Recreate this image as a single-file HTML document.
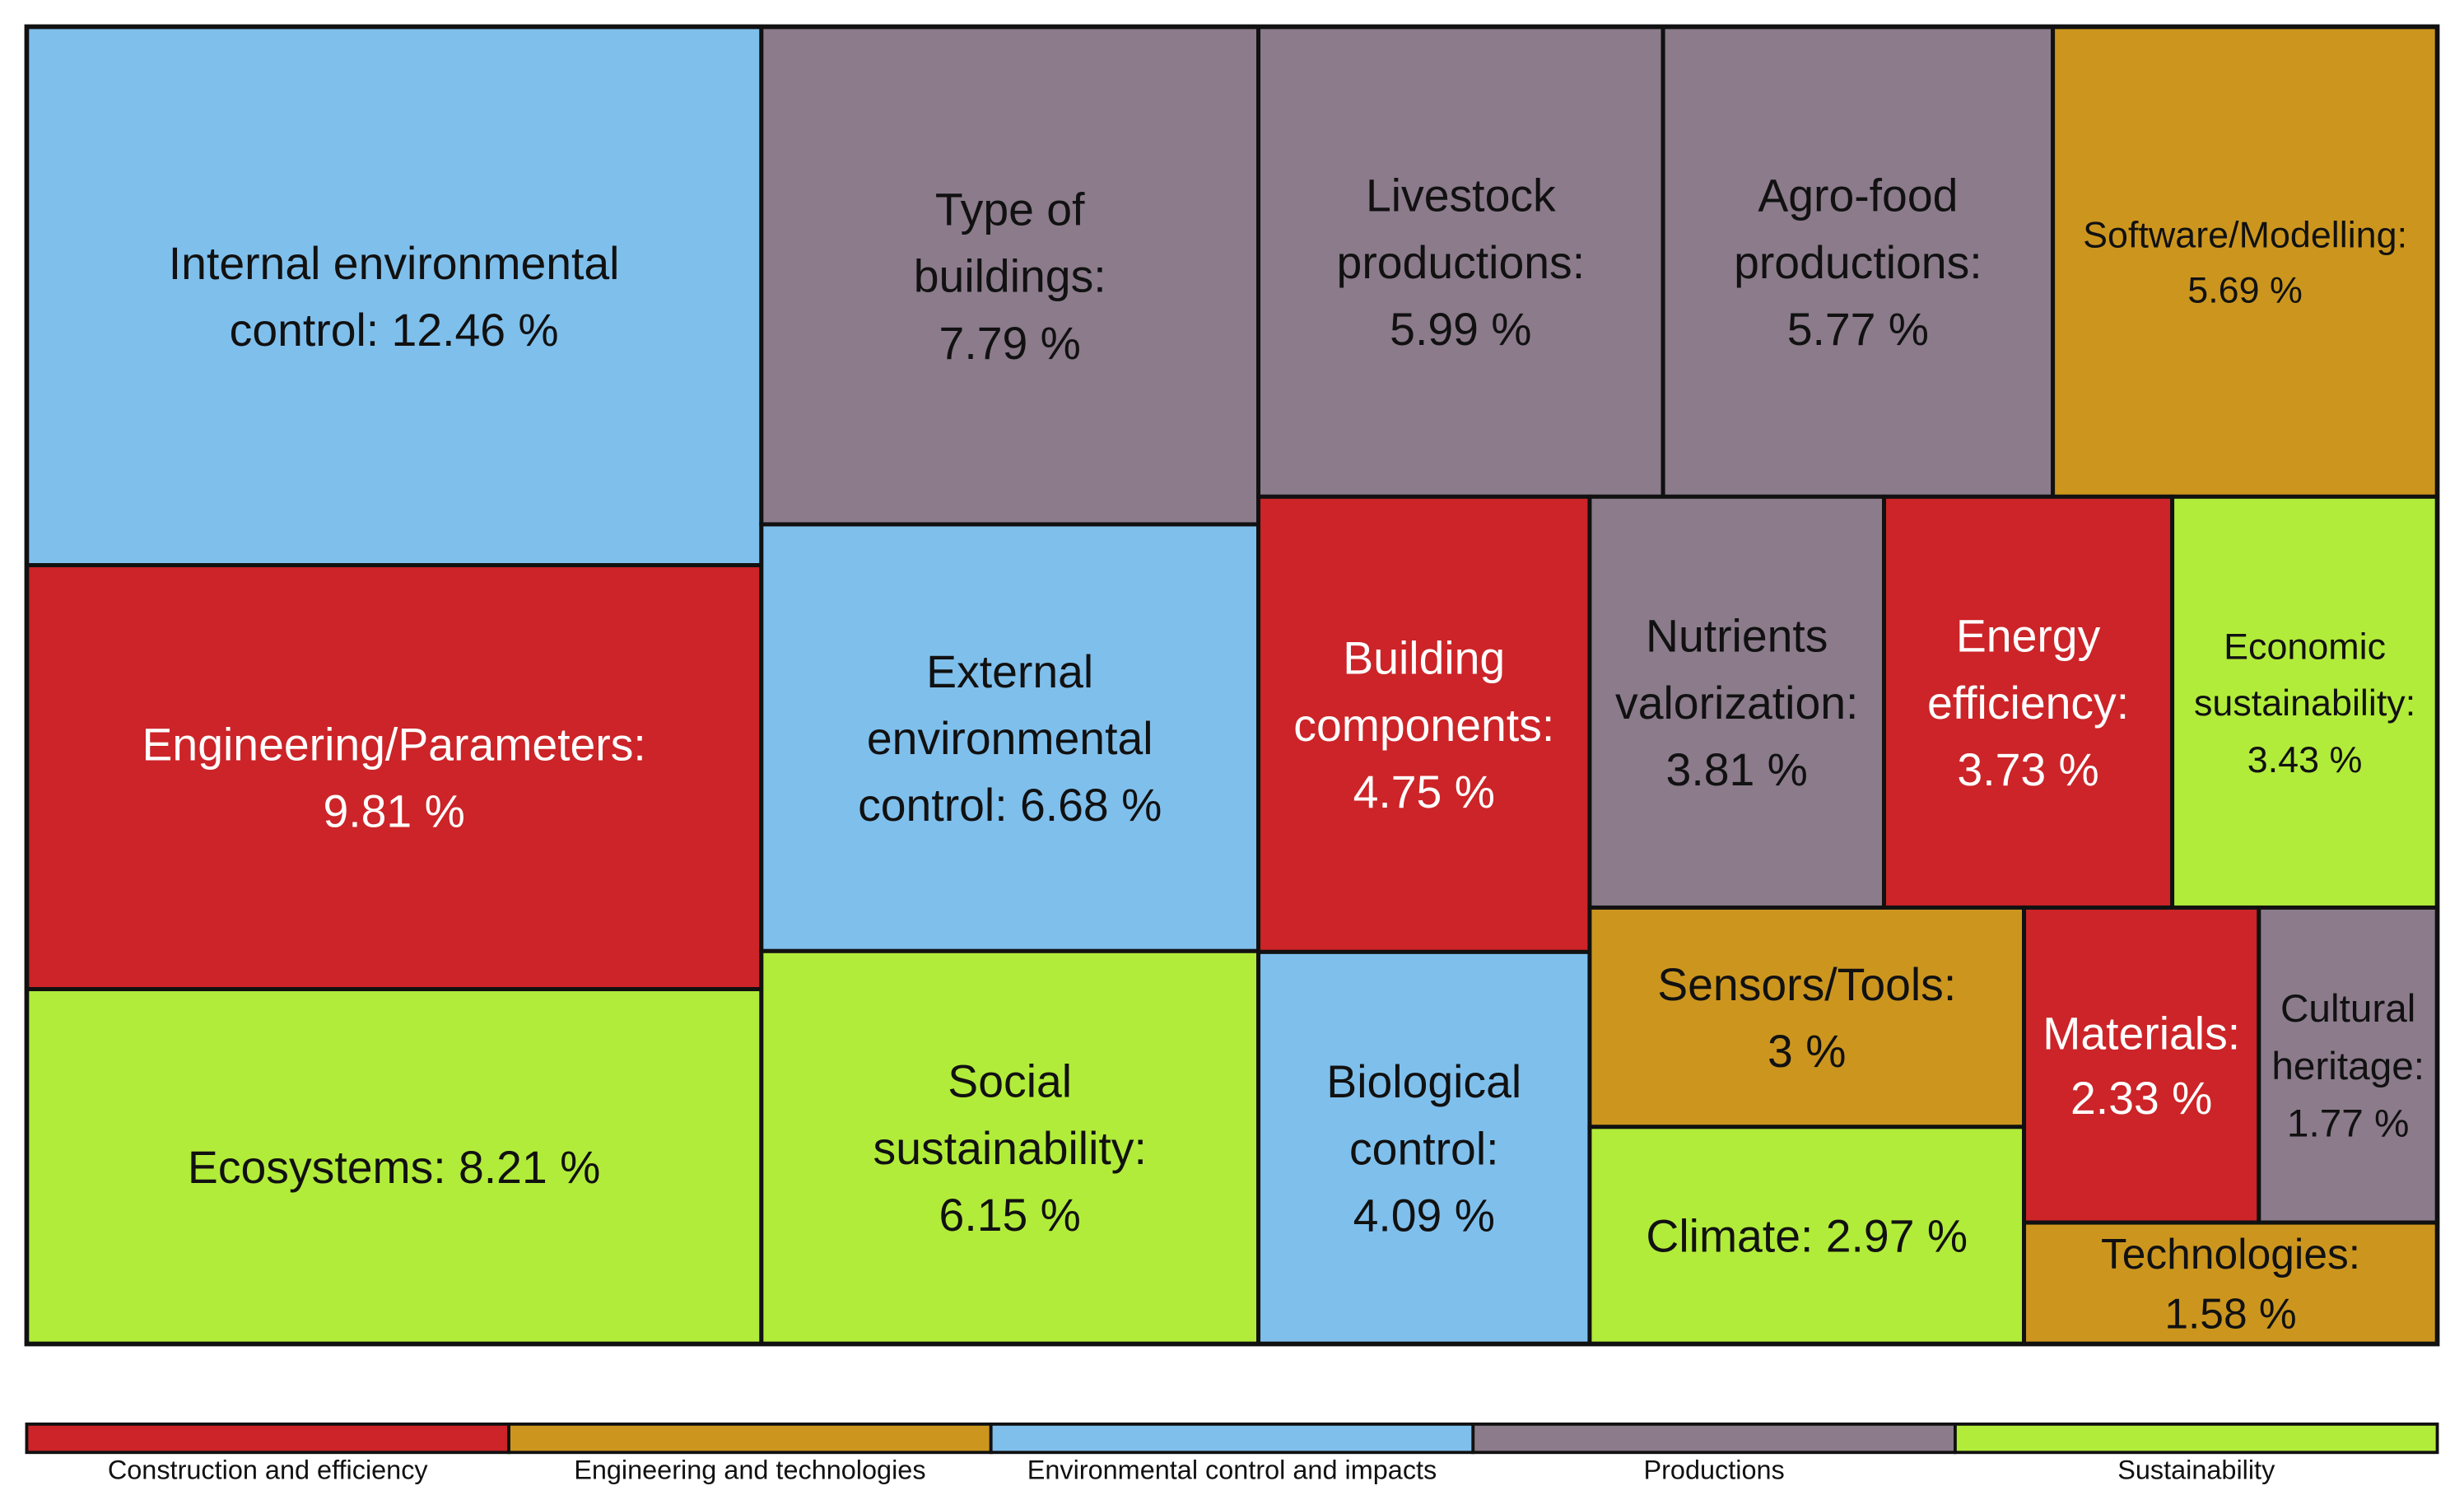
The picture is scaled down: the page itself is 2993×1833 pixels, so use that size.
<!DOCTYPE html>
<html><head><meta charset="utf-8"><style>
html,body{margin:0;padding:0;background:#fff;}
svg{display:block;font-family:"Liberation Sans",Arial,sans-serif;}
</style></head>
<body>
<svg id="chart" width="2993" height="1833" viewBox="0 0 1568 960" preserveAspectRatio="none" xmlns="http://www.w3.org/2000/svg">
<g id="tiles"></g>
<g id="legend"></g>
</svg>
<script>
const categories = ["Internal environmental control","Engineering/Parameters","Ecosystems","Type of buildings","External environmental control","Social sustainability","Livestock productions","Agro-food productions","Software/Modelling","Building components","Biological control","Nutrients valorization","Energy efficiency","Economic sustainability","Sensors/Tools","Climate","Materials","Cultural heritage","Technologies"];
const values = [12.46,9.81,8.21,7.79,6.68,6.15,5.99,5.77,5.69,4.75,4.09,3.81,3.73,3.43,3,2.97,2.33,1.77,1.58];
const valueLabels = ["12.46","9.81","8.21","7.79","6.68","6.15","5.99","5.77","5.69","4.75","4.09","3.81","3.73","3.43","3","2.97","2.33","1.77","1.58"];
const groups = [2,0,4,3,2,4,3,3,1,0,2,3,0,4,1,4,0,3,1];
const labelLines = [
 ["Internal environmental","control: {v} %"],["Engineering/Parameters:","{v} %"],["Ecosystems: {v} %"],
 ["Type of","buildings:","{v} %"],["External","environmental","control: {v} %"],["Social","sustainability:","{v} %"],
 ["Livestock","productions:","{v} %"],["Agro-food","productions:","{v} %"],["Software/Modelling:","{v} %"],
 ["Building","components:","{v} %"],["Biological","control:","{v} %"],["Nutrients","valorization:","{v} %"],
 ["Energy","efficiency:","{v} %"],["Economic","sustainability:","{v} %"],["Sensors/Tools:","{v} %"],
 ["Climate: {v} %"],["Materials:","{v} %"],["Cultural","heritage:","{v} %"],["Technologies:","{v} %"]];
const stripSizes = [3,3,3,2,3,2,2,1];
const groupNames = ["Construction and efficiency","Engineering and technologies","Environmental control and impacts","Productions","Sustainability"];

const colors = ["#cc2428","#cc961e","#7fbfec","#8b7b8b","#b2ec3a"];
const fontSizes = {8:23.5,13:23.5,17:25,18:27,16:29};
const lineHeights = {8:35,13:36,17:36.5,18:38,16:41};
const NS="http://www.w3.org/2000/svg";
const tiles=document.getElementById('tiles');
let rect={x:17,y:17,w:1534,h:838};
let idx=0;
const total=values.reduce((a,b)=>a+b,0);
let remaining=total;
function slug(s){return s.toLowerCase().replace(/[^a-z0-9]+/g,'-').replace(/^-|-$/g,'');}
const boxes=[];
stripSizes.forEach(n=>{
  const items=[];for(let k=0;k<n;k++)items.push(idx+k);
  const sum=items.reduce((a,i)=>a+values[i],0);
  const frac=sum/remaining;
  if(rect.w>=rect.h+2){
    const sw=rect.w*frac;let y=rect.y;
    items.forEach(i=>{const h=rect.h*values[i]/sum;boxes[i]={x:rect.x,y:y,w:sw,h:h};y+=h;});
    rect={x:rect.x+sw,y:rect.y,w:rect.w-sw,h:rect.h};
  } else {
    const sh=rect.h*frac;let x=rect.x;
    items.forEach(i=>{const w=rect.w*values[i]/sum;boxes[i]={x:x,y:rect.y,w:w,h:sh};x+=w;});
    rect={x:rect.x,y:rect.y+sh,w:rect.w,h:rect.h-sh};
  }
  remaining-=sum;idx+=n;
});
boxes.forEach((b,i)=>{
  const g=document.createElementNS(NS,'g');
  
  
  const r=document.createElementNS(NS,'rect');
  r.setAttribute('x',b.x);r.setAttribute('y',b.y);r.setAttribute('width',b.w);r.setAttribute('height',b.h);
  r.setAttribute('fill',colors[groups[i]]);r.setAttribute('stroke','#111');r.setAttribute('stroke-width','2.6');
  
  
  g.appendChild(r);
  const lines=labelLines[i].map(s=>s.replace('{v}',valueLabels[i]));
  const fs=fontSizes[i]||29, lh=lineHeights[i]||42.5;
  const cx=b.x+b.w/2, cy=b.y+b.h/2;
  const t=document.createElementNS(NS,'text');
  
  
  t.setAttribute('text-anchor','middle');t.setAttribute('font-size',fs);
  t.setAttribute('fill',groups[i]===0?'#ffffff':'#111111');
  lines.forEach((s,k)=>{
    const ts=document.createElementNS(NS,'tspan');
    ts.setAttribute('x',cx);
    ts.setAttribute('y',cy+(k-(lines.length-1)/2)*lh+fs*0.36);
    ts.textContent=s;t.appendChild(ts);
  });
  g.appendChild(t);tiles.appendChild(g);
});
const outer=document.createElementNS(NS,'rect');
outer.setAttribute('x',17);outer.setAttribute('y',17);outer.setAttribute('width',1534);outer.setAttribute('height',838);
outer.setAttribute('fill','none');outer.setAttribute('stroke','#111');outer.setAttribute('stroke-width','3');


tiles.appendChild(outer);
const legend=document.getElementById('legend');
const lw=1534/groupNames.length;
groupNames.forEach((nm,i)=>{
  const r=document.createElementNS(NS,'rect');
  r.setAttribute('x',17+i*lw);r.setAttribute('y',906);r.setAttribute('width',lw);r.setAttribute('height',18);
  r.setAttribute('fill',colors[i]);r.setAttribute('stroke','#111');r.setAttribute('stroke-width','2');
  
  
  legend.appendChild(r);
  const t=document.createElementNS(NS,'text');
  t.setAttribute('x',17+i*lw+lw/2);t.setAttribute('y',941);t.setAttribute('text-anchor','middle');
  t.setAttribute('font-size','17');t.setAttribute('fill','#111');
  
  
  t.textContent=nm;legend.appendChild(t);
});
</script>
</body></html>
